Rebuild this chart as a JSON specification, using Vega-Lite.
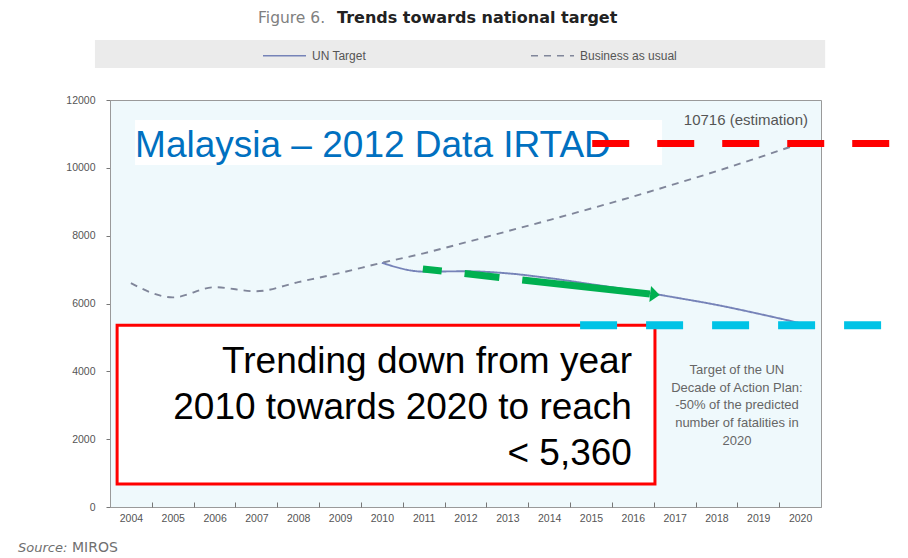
{
  "$schema": "https://vega.github.io/schema/vega-lite/v6.json",
  "width": 711,
  "height": 407,
  "autosize": {"type": "none"},
  "padding": {"left": 110, "top": 100, "right": 87, "bottom": 51},
  "background": "white",
  "title": {
    "text": "Trends towards national target",
    "anchor": "start",
    "frame": "group",
    "dx": 227,
    "offset": -15,
    "font": "DejaVu Sans",
    "fontSize": 16,
    "fontWeight": "bold",
    "color": "#222222"
  },
  "config": {
    "view": {"fill": "#eff9fc", "stroke": "#9a9a9a", "strokeWidth": 1}
  },
  "datasets": {
    "trend": [
      {"year": 2004, "value": 6600, "series": "Business as usual"},
      {"year": 2005, "value": 6180, "series": "Business as usual"},
      {"year": 2006, "value": 6480, "series": "Business as usual"},
      {"year": 2007, "value": 6360, "series": "Business as usual"},
      {"year": 2008, "value": 6630, "series": "Business as usual"},
      {"year": 2009, "value": 6900, "series": "Business as usual"},
      {"year": 2010, "value": 7200, "series": "Business as usual"},
      {"year": 2011, "value": 7480, "series": "Business as usual"},
      {"year": 2012, "value": 7800, "series": "Business as usual"},
      {"year": 2013, "value": 8130, "series": "Business as usual"},
      {"year": 2014, "value": 8460, "series": "Business as usual"},
      {"year": 2015, "value": 8800, "series": "Business as usual"},
      {"year": 2016, "value": 9150, "series": "Business as usual"},
      {"year": 2017, "value": 9520, "series": "Business as usual"},
      {"year": 2018, "value": 9900, "series": "Business as usual"},
      {"year": 2019, "value": 10300, "series": "Business as usual"},
      {"year": 2020, "value": 10716, "series": "Business as usual"},
      {"year": 2010, "value": 7200, "series": "UN Target"},
      {"year": 2011, "value": 6940, "series": "UN Target"},
      {"year": 2012, "value": 6950, "series": "UN Target"},
      {"year": 2013, "value": 6890, "series": "UN Target"},
      {"year": 2014, "value": 6750, "series": "UN Target"},
      {"year": 2015, "value": 6570, "series": "UN Target"},
      {"year": 2016, "value": 6390, "series": "UN Target"},
      {"year": 2017, "value": 6180, "series": "UN Target"},
      {"year": 2018, "value": 5960, "series": "UN Target"},
      {"year": 2019, "value": 5700, "series": "UN Target"},
      {"year": 2020, "value": 5420, "series": "UN Target"}
    ],
    "band": [{"year": 2003.14, "year2": 2020.6, "value": 12942, "value2": 13768}],
    "figlabel": [{"year": 2007.04, "value": 14269, "label": "Figure 6."}],
    "source1": [{"year": 2001.3, "value": -1327, "label": "Source:"}],
    "source2": [{"year": 2002.59, "value": -1327, "label": "MIROS"}],
    "whitebox": [{"year": 2004.1, "year2": 2016.7, "value": 10083, "value2": 11409}],
    "country": [{"year": 2004.1, "value": 10318, "label": "Malaysia – 2012 Data IRTAD"}],
    "estimate": [{"year": 2020.19, "value": 11262, "label": "10716 (estimation)"}],
    "unnote": [{"year": 2018.49, "value": 3921, "label": "Target of the UN\nDecade of Action Plan:\n-50% of the predicted\nnumber of fatalities in\n2020"}],
    "redbox": [{"year": 2003.67, "year2": 2016.53, "value": 5360, "value2": 680}],
    "boxtext": [{"year": 2015.98, "value": 3950, "label": "Trending down from year\n2010 towards 2020 to reach\n< 5,360"}],
    "arrow": [{"year": 2010.98, "value": 7017}, {"year": 2016.41, "value": 6280}],
    "arrowhead": [{"year": 2016.53, "value": 6265}],
    "reddash": [{"year": 2015.03, "year2": 2023.5, "value": 10716}],
    "cyandash": [{"year": 2014.74, "year2": 2023.5, "value": 5360}]
  },
  "resolve": {"axis": {"x": "independent", "y": "independent"}},
  "layer": [
    {
      "data": {"name": "band"},
      "mark": {"type": "rect", "fill": "#ebebeb", "clip": false},
      "encoding": {
        "x": {"field": "year", "type": "quantitative", "axis": null},
        "x2": {"field": "year2"},
        "y": {
          "field": "value", "type": "quantitative",
          "scale": {"domain": [0, 12000], "nice": false},
          "axis": {
            "orient": "left",
            "values": [0, 2000, 4000, 6000, 8000, 10000, 12000],
            "format": "d", "grid": false, "title": null,
            "labelFont": "Liberation Sans", "labelFontSize": 10.5, "labelColor": "#555555",
            "ticks": true, "tickSize": 4, "tickColor": "#777777", "labelPadding": 11,
            "domain": true, "domainColor": "#9a9a9a"
          }
        },
        "y2": {"field": "value2"}
      }
    },
    {
      "data": {"name": "figlabel"},
      "mark": {"type": "text", "align": "left", "baseline": "alphabetic", "font": "DejaVu Sans", "fontSize": 15.5, "color": "#808080", "clip": false},
      "encoding": {
        "x": {"field": "year", "type": "quantitative", "axis": null},
        "y": {"field": "value", "type": "quantitative", "axis": null},
        "text": {"field": "label", "type": "nominal"}
      }
    },
    {
      "data": {"name": "trend"},
      "mark": {"type": "line", "interpolate": "monotone", "strokeWidth": 1.9},
      "encoding": {
        "x": {
          "field": "year", "type": "quantitative",
          "scale": {"domain": [2003.5, 2020.5], "nice": false, "zero": false},
          "axis": {
            "orient": "bottom",
            "values": [2004, 2005, 2006, 2007, 2008, 2009, 2010, 2011, 2012, 2013, 2014, 2015, 2016, 2017, 2018, 2019, 2020],
            "format": "d", "ticks": false, "grid": false, "title": null,
            "labelFont": "Liberation Sans", "labelFontSize": 10.5, "labelColor": "#555555",
            "labelPadding": 6, "labelFlush": false, "labelOverlap": false,
            "domainColor": "#9a9a9a"
          }
        },
        "y": {"field": "value", "type": "quantitative", "axis": null},
        "color": {
          "field": "series", "type": "nominal",
          "scale": {"domain": ["UN Target", "Business as usual"], "range": ["#7683b8", "#80869a"]},
          "legend": {
            "orient": "none", "legendX": 152, "legendY": -67, "direction": "horizontal", "title": null,
            "symbolType": "stroke", "symbolSize": 1850, "symbolStrokeWidth": 1.5,
            "labelFont": "Liberation Sans", "labelFontSize": 12, "labelColor": "#555555",
            "labelOffset": 5, "columnPadding": 160, "padding": 0
          }
        },
        "strokeDash": {
          "field": "series", "type": "nominal",
          "scale": {"domain": ["UN Target", "Business as usual"], "range": [[1, 0], [7, 6]]},
          "legend": {
            "orient": "none", "legendX": 152, "legendY": -67, "direction": "horizontal", "title": null,
            "symbolType": "stroke", "symbolSize": 1850, "symbolStrokeWidth": 1.5,
            "labelFont": "Liberation Sans", "labelFontSize": 12, "labelColor": "#555555",
            "labelOffset": 5, "columnPadding": 160, "padding": 0
          }
        }
      }
    },
    {
      "data": {"name": "whitebox"},
      "mark": {"type": "rect", "fill": "white"},
      "encoding": {
        "x": {"field": "year", "type": "quantitative", "axis": null},
        "x2": {"field": "year2"},
        "y": {"field": "value", "type": "quantitative", "axis": null},
        "y2": {"field": "value2"}
      }
    },
    {
      "data": {"name": "country"},
      "mark": {"type": "text", "align": "left", "baseline": "alphabetic", "font": "Liberation Sans", "fontSize": 37, "color": "#0070c0"},
      "encoding": {
        "x": {"field": "year", "type": "quantitative", "axis": null},
        "y": {"field": "value", "type": "quantitative", "axis": null},
        "text": {"field": "label", "type": "nominal"}
      }
    },
    {
      "data": {"name": "estimate"},
      "mark": {"type": "text", "align": "right", "baseline": "alphabetic", "font": "Liberation Sans", "fontSize": 15, "color": "#555555"},
      "encoding": {
        "x": {"field": "year", "type": "quantitative", "axis": null},
        "y": {"field": "value", "type": "quantitative", "axis": null},
        "text": {"field": "label", "type": "nominal"}
      }
    },
    {
      "data": {"name": "unnote"},
      "mark": {"type": "text", "align": "center", "baseline": "alphabetic", "font": "Liberation Sans", "fontSize": 13, "color": "#666666", "lineBreak": "\n", "lineHeight": 17.7},
      "encoding": {
        "x": {"field": "year", "type": "quantitative", "axis": null},
        "y": {"field": "value", "type": "quantitative", "axis": null},
        "text": {"field": "label", "type": "nominal"}
      }
    },
    {
      "data": {"name": "redbox"},
      "mark": {"type": "rect", "fill": "white", "stroke": "#ff0000", "strokeWidth": 3},
      "encoding": {
        "x": {"field": "year", "type": "quantitative", "axis": null},
        "x2": {"field": "year2"},
        "y": {"field": "value", "type": "quantitative", "axis": null},
        "y2": {"field": "value2"}
      }
    },
    {
      "data": {"name": "boxtext"},
      "mark": {"type": "text", "align": "right", "baseline": "alphabetic", "font": "Liberation Sans", "fontSize": 37, "color": "#000000", "lineBreak": "\n", "lineHeight": 46},
      "encoding": {
        "x": {"field": "year", "type": "quantitative", "axis": null},
        "y": {"field": "value", "type": "quantitative", "axis": null},
        "text": {"field": "label", "type": "nominal"}
      }
    },
    {
      "data": {"name": "arrow"},
      "mark": {"type": "line", "stroke": "#00b050", "strokeWidth": 7, "strokeCap": "butt", "strokeDash": [19, 23, 35, 23, 300]},
      "encoding": {
        "x": {"field": "year", "type": "quantitative", "axis": null},
        "y": {"field": "value", "type": "quantitative", "axis": null}
      }
    },
    {
      "data": {"name": "arrowhead"},
      "mark": {"type": "point", "shape": "M-0.6,-1L0.6,0L-0.6,1Z", "size": 256, "filled": true, "fill": "#00b050", "stroke": null, "opacity": 1, "angle": 6},
      "encoding": {
        "x": {"field": "year", "type": "quantitative", "axis": null},
        "y": {"field": "value", "type": "quantitative", "axis": null}
      }
    },
    {
      "data": {"name": "reddash"},
      "mark": {"type": "rule", "stroke": "#ff0000", "strokeWidth": 7, "strokeDash": [37, 28], "clip": false},
      "encoding": {
        "x": {"field": "year", "type": "quantitative", "axis": null},
        "x2": {"field": "year2"},
        "y": {"field": "value", "type": "quantitative", "axis": null}
      }
    },
    {
      "data": {"name": "cyandash"},
      "mark": {"type": "rule", "stroke": "#00c3e6", "strokeWidth": 8, "strokeDash": [37, 29], "clip": false},
      "encoding": {
        "x": {
          "field": "year", "type": "quantitative",
          "axis": {
            "orient": "bottom",
            "values": [2004.5, 2005.5, 2006.5, 2007.5, 2008.5, 2009.5, 2010.5, 2011.5, 2012.5, 2013.5, 2014.5, 2015.5, 2016.5, 2017.5, 2018.5, 2019.5],
            "labels": false, "domain": false, "grid": false, "title": null,
            "ticks": true, "tickSize": -5, "tickColor": "#777777"
          }
        },
        "x2": {"field": "year2"},
        "y": {"field": "value", "type": "quantitative", "axis": null}
      }
    },
    {
      "data": {"name": "source1"},
      "mark": {"type": "text", "align": "left", "baseline": "alphabetic", "font": "DejaVu Sans", "fontSize": 13, "fontStyle": "italic", "color": "#707070", "clip": false},
      "encoding": {
        "x": {"field": "year", "type": "quantitative", "axis": null},
        "y": {"field": "value", "type": "quantitative", "axis": null},
        "text": {"field": "label", "type": "nominal"}
      }
    },
    {
      "data": {"name": "source2"},
      "mark": {"type": "text", "align": "left", "baseline": "alphabetic", "font": "DejaVu Sans", "fontSize": 14, "color": "#707070", "clip": false},
      "encoding": {
        "x": {"field": "year", "type": "quantitative", "axis": null},
        "y": {"field": "value", "type": "quantitative", "axis": null},
        "text": {"field": "label", "type": "nominal"}
      }
    }
  ]
}
